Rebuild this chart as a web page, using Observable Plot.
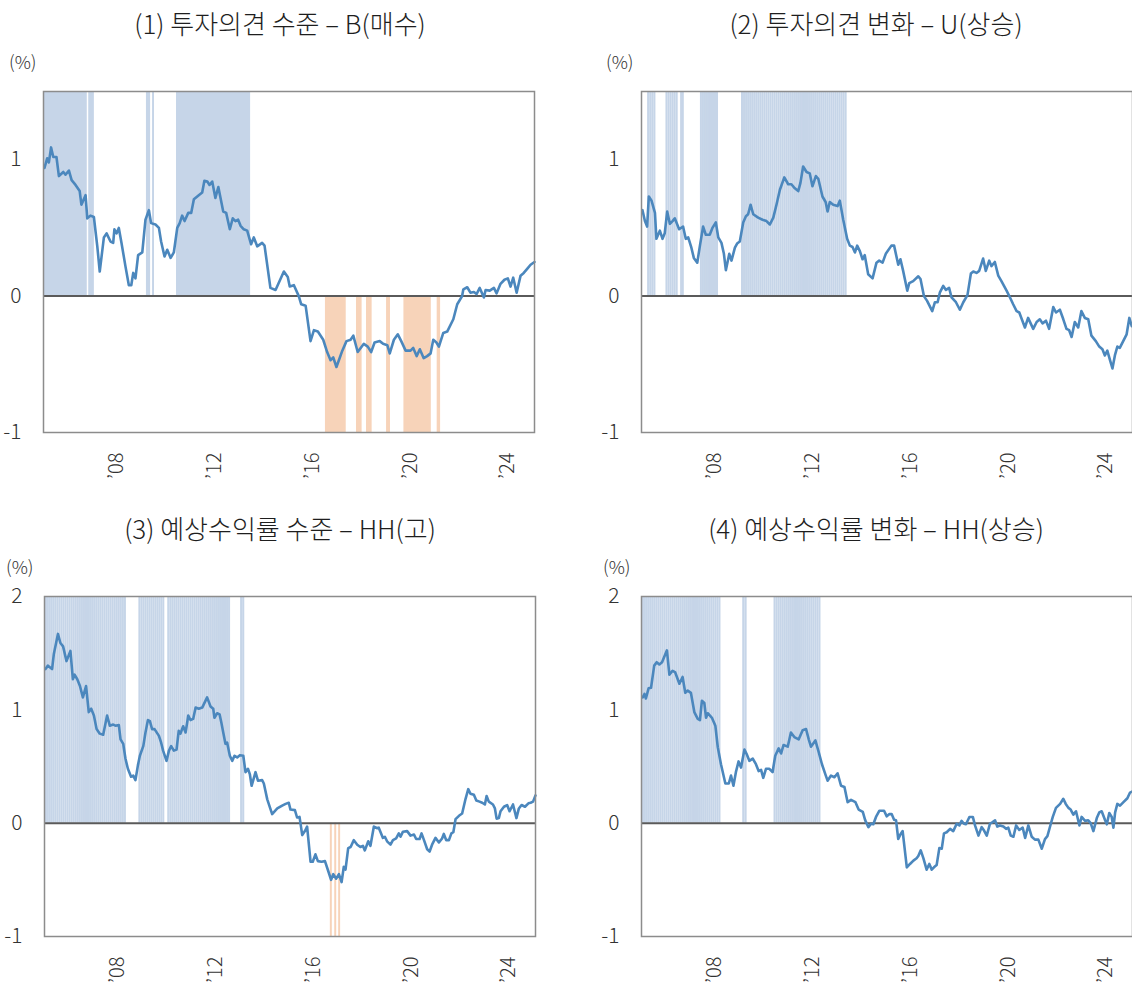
<!DOCTYPE html>
<html><head><meta charset="utf-8">
<script src="https://cdn.jsdelivr.net/npm/d3@7"></script>
<script src="https://cdn.jsdelivr.net/npm/@observablehq/plot@0.6"></script>
<style>
html,body{margin:0;padding:0;overflow:hidden;background:#fff;width:1132px;height:985px;}
#root{position:relative;width:1132px;height:985px;font-family:"Noto Sans CJK KR","Noto Sans",sans-serif;color:#222;}
.title{position:absolute;width:560px;text-align:center;font-size:26px;font-weight:300;line-height:30px;white-space:nowrap;color:#1e1e1e;}
.unit{position:absolute;font-size:18px;font-weight:300;line-height:20px;color:#333;}
.chart{position:absolute;}
.chart text{font-weight:300;}
</style></head><body><div id="root"></div>
<script>
// ---------- data ----------
const titles = ["(1) 투자의견 수준 – B(매수)", "(2) 투자의견 변화 – U(상승)", "(3) 예상수익률 수준 – HH(고)", "(4) 예상수익률 변화 – HH(상승)"];
const xTicks = [2008, 2012, 2016, 2020, 2024];
const yTicksTop = [-1, 0, 1];
const yTicksBottom = [-1, 0, 1, 2];

const p1 = [[2005.04,0.94],[2005.15,1.01],[2005.22,0.98],[2005.31,1.09],[2005.40,1.02],[2005.53,1.02],[2005.63,0.88],[2005.81,0.91],[2005.90,0.89],[2006.04,0.92],[2006.15,0.85],[2006.31,0.815],[2006.48,0.77],[2006.55,0.67],[2006.72,0.74],[2006.79,0.57],[2006.92,0.59],[2007.06,0.58],[2007.20,0.365],[2007.30,0.18],[2007.47,0.43],[2007.58,0.46],[2007.74,0.40],[2007.85,0.39],[2007.90,0.49],[2007.99,0.46],[2008.08,0.50],[2008.19,0.39],[2008.35,0.22],[2008.49,0.08],[2008.59,0.08],[2008.67,0.17],[2008.76,0.13],[2008.87,0.30],[2009.04,0.32],[2009.17,0.56],[2009.31,0.63],[2009.40,0.535],[2009.58,0.525],[2009.72,0.50],[2009.81,0.40],[2009.95,0.29],[2010.06,0.34],[2010.20,0.28],[2010.33,0.32],[2010.47,0.50],[2010.57,0.535],[2010.67,0.59],[2010.77,0.55],[2010.92,0.61],[2011.04,0.61],[2011.15,0.71],[2011.35,0.74],[2011.49,0.76],[2011.58,0.845],[2011.70,0.84],[2011.79,0.815],[2011.90,0.84],[2012.03,0.72],[2012.15,0.80],[2012.35,0.62],[2012.47,0.61],[2012.62,0.49],[2012.74,0.57],[2012.85,0.55],[2012.96,0.56],[2013.06,0.515],[2013.19,0.49],[2013.33,0.48],[2013.49,0.38],[2013.60,0.43],[2013.74,0.365],[2013.94,0.39],[2014.04,0.37],[2014.28,0.06],[2014.49,0.045],[2014.83,0.18],[2014.99,0.14],[2015.07,0.07],[2015.24,0.08],[2015.44,0.0],[2015.54,-0.06],[2015.72,-0.07],[2015.92,-0.33],[2016.06,-0.25],[2016.22,-0.26],[2016.44,-0.32],[2016.60,-0.41],[2016.74,-0.47],[2016.85,-0.45],[2016.98,-0.52],[2017.12,-0.45],[2017.22,-0.40],[2017.39,-0.33],[2017.56,-0.32],[2017.67,-0.29],[2017.85,-0.41],[2018.10,-0.35],[2018.26,-0.37],[2018.40,-0.41],[2018.54,-0.34],[2018.75,-0.33],[2018.89,-0.35],[2019.06,-0.36],[2019.16,-0.42],[2019.33,-0.32],[2019.49,-0.28],[2019.63,-0.33],[2019.81,-0.40],[2020.01,-0.40],[2020.12,-0.38],[2020.26,-0.44],[2020.39,-0.39],[2020.55,-0.455],[2020.69,-0.44],[2020.83,-0.42],[2020.94,-0.32],[2021.07,-0.34],[2021.17,-0.37],[2021.35,-0.27],[2021.51,-0.26],[2021.76,-0.17],[2021.92,-0.06],[2022.12,0.0],[2022.17,0.05],[2022.33,0.065],[2022.46,0.025],[2022.60,0.03],[2022.71,0.015],[2022.84,0.06],[2023.01,-0.01],[2023.08,0.045],[2023.25,0.04],[2023.42,0.06],[2023.53,0.02],[2023.69,0.09],[2023.85,0.12],[2023.99,0.13],[2024.10,0.07],[2024.21,0.135],[2024.35,0.025],[2024.51,0.15],[2024.64,0.17],[2024.78,0.2],[2024.92,0.23],[2025.08,0.25]];
const p1Blue = [[2005.0,2006.79],[2006.85,2007.08],[2009.21,2009.38],[2009.46,2009.54],[2010.44,2013.47]];
const p1Orange = [[2016.53,2017.38],[2017.80,2018.03],[2018.21,2018.44],[2019.03,2019.19],[2019.74,2020.86],[2021.10,2021.24]];

const p2 = [[2005.04,0.63],[2005.14,0.55],[2005.23,0.51],[2005.30,0.73],[2005.41,0.70],[2005.55,0.61],[2005.61,0.42],[2005.75,0.48],[2005.86,0.42],[2005.95,0.46],[2006.05,0.62],[2006.16,0.53],[2006.27,0.55],[2006.36,0.57],[2006.54,0.49],[2006.70,0.51],[2006.81,0.42],[2006.91,0.43],[2007.04,0.355],[2007.14,0.28],[2007.28,0.245],[2007.39,0.37],[2007.52,0.51],[2007.63,0.45],[2007.79,0.45],[2007.90,0.50],[2008.04,0.54],[2008.14,0.43],[2008.27,0.39],[2008.37,0.31],[2008.45,0.19],[2008.59,0.31],[2008.68,0.26],[2008.82,0.355],[2008.91,0.385],[2009.02,0.40],[2009.16,0.54],[2009.27,0.585],[2009.36,0.60],[2009.46,0.67],[2009.57,0.60],[2009.77,0.575],[2009.95,0.56],[2010.11,0.55],[2010.25,0.525],[2010.39,0.575],[2010.52,0.67],[2010.66,0.78],[2010.84,0.87],[2011.00,0.82],[2011.13,0.82],[2011.27,0.79],[2011.41,0.77],[2011.50,0.83],[2011.61,0.95],[2011.75,0.91],[2011.88,0.90],[2011.99,0.805],[2012.13,0.88],[2012.23,0.86],[2012.40,0.73],[2012.53,0.69],[2012.61,0.62],[2012.70,0.69],[2012.84,0.67],[2013.02,0.66],[2013.11,0.70],[2013.25,0.56],[2013.41,0.42],[2013.52,0.37],[2013.63,0.36],[2013.73,0.32],[2013.82,0.37],[2013.93,0.33],[2014.04,0.27],[2014.13,0.30],[2014.27,0.16],[2014.45,0.13],[2014.61,0.245],[2014.72,0.26],[2014.86,0.245],[2014.99,0.31],[2015.22,0.37],[2015.33,0.37],[2015.50,0.23],[2015.59,0.27],[2015.70,0.185],[2015.87,0.04],[2015.95,0.095],[2016.11,0.11],[2016.32,0.145],[2016.41,0.125],[2016.55,0.0],[2016.68,-0.035],[2016.89,-0.11],[2017.00,-0.045],[2017.11,-0.045],[2017.20,0.025],[2017.34,0.075],[2017.45,0.045],[2017.58,0.06],[2017.68,-0.01],[2017.86,-0.045],[2018.02,-0.10],[2018.16,-0.045],[2018.33,0.007],[2018.47,0.165],[2018.57,0.18],[2018.70,0.17],[2018.81,0.185],[2018.97,0.275],[2019.08,0.185],[2019.22,0.26],[2019.31,0.22],[2019.45,0.25],[2019.59,0.15],[2019.72,0.11],[2019.93,0.04],[2020.07,-0.01],[2020.20,-0.06],[2020.34,-0.11],[2020.45,-0.12],[2020.68,-0.23],[2020.81,-0.16],[2021.02,-0.24],[2021.16,-0.19],[2021.29,-0.17],[2021.40,-0.20],[2021.54,-0.18],[2021.67,-0.24],[2021.84,-0.08],[2021.95,-0.12],[2022.11,-0.10],[2022.25,-0.17],[2022.38,-0.24],[2022.49,-0.25],[2022.59,-0.30],[2022.72,-0.19],[2022.86,-0.23],[2022.99,-0.11],[2023.13,-0.16],[2023.27,-0.17],[2023.40,-0.29],[2023.58,-0.33],[2023.72,-0.37],[2023.85,-0.39],[2023.95,-0.435],[2024.05,-0.40],[2024.16,-0.47],[2024.26,-0.53],[2024.36,-0.435],[2024.46,-0.37],[2024.56,-0.38],[2024.70,-0.33],[2024.84,-0.28],[2024.95,-0.16],[2025.05,-0.22]];
const p2Blue = [[2005.25,2005.59],[2006.00,2006.50],[2006.60,2006.75],[2007.41,2008.15],[2009.09,2013.41]];
const p2Orange = [];

const p3 = [[2005.04,1.36],[2005.14,1.39],[2005.31,1.36],[2005.38,1.49],[2005.55,1.67],[2005.65,1.59],[2005.76,1.56],[2005.90,1.43],[2006.06,1.52],[2006.16,1.27],[2006.23,1.31],[2006.34,1.27],[2006.45,1.21],[2006.57,1.11],[2006.70,1.21],[2006.81,0.98],[2006.91,1.01],[2007.02,0.95],[2007.13,0.83],[2007.26,0.79],[2007.40,0.78],[2007.56,0.95],[2007.67,0.86],[2007.81,0.87],[2007.90,0.86],[2008.04,0.865],[2008.11,0.74],[2008.22,0.70],[2008.31,0.57],[2008.41,0.48],[2008.54,0.41],[2008.63,0.42],[2008.72,0.38],[2008.82,0.51],[2008.90,0.595],[2009.04,0.68],[2009.13,0.80],[2009.23,0.91],[2009.31,0.90],[2009.40,0.83],[2009.50,0.83],[2009.68,0.77],[2009.77,0.71],[2009.85,0.64],[2009.99,0.55],[2010.09,0.64],[2010.18,0.68],[2010.29,0.64],[2010.40,0.65],[2010.49,0.815],[2010.56,0.79],[2010.67,0.855],[2010.77,0.80],[2010.88,0.95],[2010.97,0.91],[2011.08,0.92],[2011.18,1.02],[2011.31,1.01],[2011.45,1.02],[2011.65,1.11],[2011.79,1.03],[2011.90,1.01],[2011.95,0.93],[2012.06,0.97],[2012.16,0.96],[2012.23,0.89],[2012.31,0.80],[2012.40,0.70],[2012.47,0.71],[2012.58,0.595],[2012.68,0.55],[2012.77,0.595],[2012.88,0.58],[2012.99,0.60],[2013.13,0.595],[2013.22,0.45],[2013.32,0.48],[2013.40,0.43],[2013.47,0.33],[2013.63,0.45],[2013.73,0.375],[2013.90,0.38],[2013.97,0.35],[2014.11,0.21],[2014.31,0.08],[2014.52,0.13],[2014.72,0.155],[2014.86,0.17],[2014.99,0.18],[2015.06,0.12],[2015.24,0.115],[2015.33,0.05],[2015.43,0.055],[2015.54,-0.105],[2015.65,-0.07],[2015.74,-0.03],[2015.88,-0.34],[2015.97,-0.34],[2016.08,-0.275],[2016.18,-0.335],[2016.33,-0.34],[2016.47,-0.335],[2016.60,-0.42],[2016.72,-0.50],[2016.81,-0.45],[2016.93,-0.49],[2017.04,-0.45],[2017.15,-0.52],[2017.24,-0.385],[2017.31,-0.41],[2017.42,-0.22],[2017.52,-0.21],[2017.65,-0.15],[2017.79,-0.19],[2017.92,-0.21],[2018.02,-0.20],[2018.10,-0.24],[2018.24,-0.16],[2018.33,-0.20],[2018.47,-0.03],[2018.61,-0.045],[2018.67,-0.04],[2018.84,-0.13],[2018.92,-0.12],[2019.01,-0.16],[2019.15,-0.19],[2019.25,-0.15],[2019.38,-0.135],[2019.49,-0.09],[2019.56,-0.12],[2019.66,-0.075],[2019.83,-0.07],[2019.97,-0.11],[2020.11,-0.10],[2020.20,-0.14],[2020.34,-0.14],[2020.42,-0.09],[2020.52,-0.15],[2020.65,-0.23],[2020.75,-0.25],[2020.85,-0.19],[2020.99,-0.13],[2021.13,-0.17],[2021.26,-0.135],[2021.33,-0.095],[2021.43,-0.15],[2021.54,-0.15],[2021.64,-0.09],[2021.72,-0.08],[2021.81,0.035],[2021.95,0.065],[2022.08,0.085],[2022.22,0.215],[2022.33,0.30],[2022.42,0.26],[2022.56,0.25],[2022.66,0.20],[2022.79,0.19],[2022.90,0.18],[2023.01,0.165],[2023.08,0.24],[2023.17,0.19],[2023.34,0.165],[2023.42,0.13],[2023.49,0.04],[2023.58,0.045],[2023.65,0.105],[2023.79,0.145],[2023.92,0.16],[2024.02,0.105],[2024.16,0.165],[2024.30,0.045],[2024.40,0.13],[2024.51,0.16],[2024.65,0.145],[2024.79,0.175],[2024.88,0.18],[2024.98,0.19],[2025.08,0.245]];
const p3Blue = [[2005.0,2008.35],[2008.86,2009.92],[2010.04,2012.61],[2013.02,2013.19]];
const p3Orange = [[2016.69,2016.77],[2016.87,2016.95],[2017.03,2017.11]];

const p4 = [[2005.05,1.11],[2005.12,1.14],[2005.18,1.10],[2005.29,1.19],[2005.39,1.195],[2005.52,1.39],[2005.62,1.42],[2005.73,1.40],[2005.84,1.42],[2006.04,1.525],[2006.14,1.31],[2006.27,1.345],[2006.38,1.33],[2006.55,1.23],[2006.68,1.29],[2006.79,1.15],[2006.89,1.17],[2007.02,1.15],[2007.16,0.98],[2007.30,0.92],[2007.39,0.91],[2007.47,1.08],[2007.57,1.06],[2007.64,0.93],[2007.71,0.97],[2007.88,0.93],[2008.02,0.86],[2008.12,0.67],[2008.25,0.52],[2008.43,0.35],[2008.57,0.35],[2008.66,0.42],[2008.76,0.33],[2008.86,0.45],[2008.97,0.545],[2009.07,0.49],[2009.21,0.65],[2009.30,0.61],[2009.41,0.55],[2009.55,0.57],[2009.68,0.52],[2009.79,0.46],[2009.89,0.47],[2009.98,0.40],[2010.09,0.48],[2010.23,0.48],[2010.36,0.45],[2010.47,0.595],[2010.61,0.66],[2010.71,0.615],[2010.81,0.69],[2010.98,0.675],[2011.11,0.80],[2011.25,0.76],[2011.43,0.74],[2011.59,0.82],[2011.73,0.83],[2011.84,0.74],[2011.93,0.675],[2012.11,0.73],[2012.25,0.625],[2012.38,0.52],[2012.52,0.43],[2012.61,0.375],[2012.75,0.42],[2012.89,0.405],[2013.02,0.44],[2013.16,0.33],[2013.30,0.32],[2013.43,0.185],[2013.57,0.205],[2013.75,0.185],[2013.88,0.12],[2014.05,0.10],[2014.15,0.025],[2014.28,-0.035],[2014.39,-0.005],[2014.48,-0.01],[2014.59,0.055],[2014.73,0.11],[2014.92,0.11],[2015.03,0.06],[2015.14,0.08],[2015.23,0.08],[2015.33,0.03],[2015.41,0.025],[2015.50,-0.14],[2015.60,-0.095],[2015.68,-0.07],[2015.85,-0.39],[2015.98,-0.36],[2016.12,-0.33],[2016.25,-0.31],[2016.32,-0.29],[2016.42,-0.24],[2016.53,-0.31],[2016.66,-0.41],[2016.77,-0.36],[2016.87,-0.41],[2016.96,-0.39],[2017.07,-0.37],[2017.18,-0.22],[2017.28,-0.225],[2017.37,-0.09],[2017.48,-0.08],[2017.62,-0.05],[2017.75,-0.07],[2017.89,-0.005],[2018.00,-0.02],[2018.09,0.02],[2018.19,-0.005],[2018.27,-0.01],[2018.41,0.055],[2018.55,0.055],[2018.64,-0.02],[2018.78,-0.11],[2018.91,-0.035],[2019.01,-0.065],[2019.12,-0.11],[2019.25,-0.005],[2019.36,0.01],[2019.46,0.025],[2019.55,-0.03],[2019.66,-0.02],[2019.80,-0.03],[2019.91,-0.05],[2020.00,-0.04],[2020.10,-0.11],[2020.21,-0.12],[2020.32,-0.02],[2020.45,-0.06],[2020.59,-0.04],[2020.69,-0.13],[2020.82,-0.02],[2020.96,-0.12],[2021.09,-0.145],[2021.23,-0.145],[2021.37,-0.225],[2021.50,-0.14],[2021.60,-0.115],[2021.74,-0.005],[2021.82,0.055],[2021.95,0.135],[2022.12,0.17],[2022.25,0.215],[2022.35,0.17],[2022.46,0.135],[2022.55,0.12],[2022.66,0.075],[2022.77,0.105],[2022.91,-0.02],[2023.00,0.055],[2023.14,0.02],[2023.27,0.025],[2023.37,0.0],[2023.48,-0.07],[2023.62,0.045],[2023.72,0.095],[2023.82,0.105],[2023.96,0.025],[2024.03,-0.01],[2024.13,0.09],[2024.23,0.055],[2024.30,-0.04],[2024.37,0.095],[2024.46,0.17],[2024.57,0.155],[2024.71,0.185],[2024.87,0.22],[2024.98,0.27],[2025.08,0.28]];
const p4Blue = [[2005.0,2008.25],[2009.14,2009.32],[2010.42,2012.34]];
const p4Orange = [];

// ---------- layout ----------
const BLUE = "#c6d5e8", ORANGE = "#f7d3b9", LINE = "#4b87bd";
const FONT = '"Noto Sans CJK KR","Noto Sans",sans-serif';
const panels = [
  {title: titles[0], data: p1, blue: p1Blue, orange: p1Orange, striped: false, left: 0,   top: 80,  mt: 11, mb: 55, ml: 43, yd: [-1, 1.5], yt: yTicksTop,    tTop: 8,   uLeft: 9,   uTop: 51, tLeft: 0},
  {title: titles[1], data: p2, blue: p2Blue, orange: p2Orange, striped: true,  left: 598, top: 80,  mt: 11, mb: 55, ml: 43, yd: [-1, 1.5], yt: yTicksTop,    tTop: 8,   uLeft: 606, uTop: 51, tLeft: 596},
  {title: titles[2], data: p3, blue: p3Blue, orange: p3Orange, striped: true,  left: 0,   top: 580, mt: 16, mb: 49, ml: 44, yd: [-1, 2],   yt: yTicksBottom, tTop: 513, uLeft: 6,   uTop: 556, tLeft: 0},
  {title: titles[3], data: p4, blue: p4Blue, orange: p4Orange, striped: true,  left: 598, top: 580, mt: 16, mb: 49, ml: 43, yd: [-1, 2],   yt: yTicksBottom, tTop: 513, uLeft: 603, uTop: 556, tLeft: 596}
];

function monthly(intervals) {
  const out = [];
  for (const [s, e] of intervals) {
    const n = Math.max(1, Math.round((e - s) * 12));
    const w = (e - s) / n;
    for (let i = 0; i < n; i++) out.push([s + i * w, s + (i + 1) * w]);
  }
  return out;
}

const root = document.getElementById("root");
for (const p of panels) {
  const t = document.createElement("div");
  t.className = "title"; t.textContent = p.title;
  t.style.left = p.tLeft + "px"; t.style.top = p.tTop + "px";
  root.appendChild(t);
  const u = document.createElement("div");
  u.className = "unit"; u.textContent = "(%)";
  u.style.left = p.uLeft + "px"; u.style.top = p.uTop + "px";
  root.appendChild(u);

  const blue = p.striped ? monthly(p.blue) : p.blue;
  const orange = p.striped ? monthly(p.orange) : p.orange;
  const plotH = p.top === 80 ? 341 : 340;
  const chart = Plot.plot({
    width: 560,
    height: p.mt + plotH + p.mb,
    marginTop: p.mt, marginBottom: p.mb, marginLeft: p.ml, marginRight: 560 - p.ml - 491,
    style: {fontFamily: FONT, color: "#333", background: "transparent", overflow: "visible"},
    x: {domain: [2005, 2025.08]},
    y: {domain: p.yd},
    marks: [
      Plot.rect(blue, {x1: d => d[0], x2: d => d[1], y1: () => 0, y2: () => p.yd[1], fill: BLUE}),
      Plot.rect(orange, {x1: d => d[0], x2: d => d[1], y1: () => p.yd[0], y2: () => 0, fill: ORANGE}),
      Plot.ruleY([0], {stroke: "#5a5a5a", strokeWidth: 2}),
      Plot.line(p.data, {x: d => d[0], y: d => d[1], stroke: LINE, strokeWidth: 2.6, strokeLinejoin: "round"}),
      Plot.frame({stroke: "#8c8c8c", strokeWidth: 1.5}),
      Plot.axisY({ticks: p.yt, tickSize: 0, tickPadding: 22, tickFormat: d => String(d), fontSize: 21, label: null}),
      Plot.axisX({ticks: xTicks, tickSize: 0, tickPadding: 20, tickRotate: -90, tickFormat: d => "\u2019" + String(d).slice(2), fontSize: 20, label: null})
    ]
  });
  chart.classList.add("chart");
  chart.style.left = p.left + "px";
  chart.style.top = p.top + "px";
  root.appendChild(chart);
}
</script></body></html>
